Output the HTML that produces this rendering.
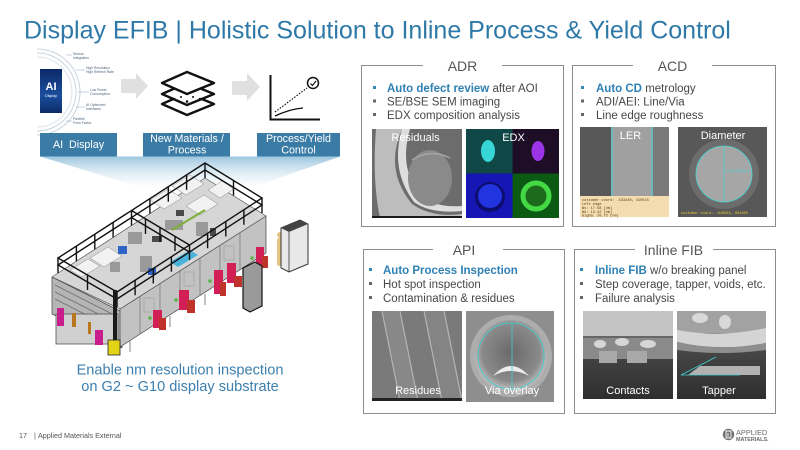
<!DOCTYPE html>
<html><head><meta charset="utf-8"><style>
html,body{margin:0;padding:0;background:#fff;}
body{width:800px;height:450px;overflow:hidden;}
svg{display:block;font-family:"Liberation Sans",Arial,sans-serif;}
</style></head><body>
<svg width="800" height="450" viewBox="0 0 800 450" xmlns="http://www.w3.org/2000/svg">
<defs>
<linearGradient id="spot" x1="0" y1="0" x2="0" y2="1">
<stop offset="0" stop-color="#9cc6df"/><stop offset="1" stop-color="#ffffff" stop-opacity="0"/>
</linearGradient>
<linearGradient id="aipanel" x1="0" y1="0" x2="0" y2="1">
<stop offset="0" stop-color="#0b2868"/><stop offset="0.6" stop-color="#1b4f9e"/><stop offset="1" stop-color="#0c2a66"/>
</linearGradient>
<linearGradient id="darkb" x1="0" y1="0" x2="0" y2="1">
<stop offset="0" stop-color="#5a5a5a"/><stop offset="1" stop-color="#2e2e2e"/>
</linearGradient>
<radialGradient id="via" cx="0.5" cy="0.45" r="0.5">
<stop offset="0" stop-color="#6a6a6a"/><stop offset="0.8" stop-color="#8a8a8a"/><stop offset="1" stop-color="#b5b5b5"/>
</radialGradient>
</defs>

<!-- Title -->
<text x="24" y="38.5" font-size="25" fill="#2e79a8">Display EFIB | Holistic Solution to Inline Process &amp; Yield Control</text>

<!-- AI display graphic -->
<g fill="none" stroke="#c9d3de" stroke-width="1">
<path d="M37,53 A39,39 0 0 1 37,131"/>
<path d="M37,49 A43,43 0 0 1 37,135"/>
<path d="M37,57 A35,35 0 0 1 37,127" stroke="#dde3ea"/>
</g>
<rect x="40" y="69" width="22" height="44" fill="url(#aipanel)"/>
<text x="51" y="90" font-size="11" font-weight="bold" fill="#fff" text-anchor="middle">AI</text>
<text x="51" y="97" font-size="3.6" fill="#fff" text-anchor="middle">Display</text>
<g stroke="#8fa6bf" stroke-width="0.5">
<line x1="66" y1="55" x2="72" y2="55"/><line x1="76" y1="70" x2="85" y2="70"/>
<line x1="78" y1="92" x2="89" y2="92"/><line x1="76" y1="107" x2="85" y2="107"/><line x1="66" y1="121" x2="72" y2="121"/>
</g>
<g font-size="3.4" fill="#4f6680">
<text x="73" y="55">Sensor</text><text x="73" y="59">Integration</text>
<text x="86" y="69">High Resolution</text><text x="86" y="73">High Refresh Rate</text>
<text x="90" y="91">Low Power</text><text x="90" y="95">Consumption</text>
<text x="86" y="106">AI Optimized</text><text x="86" y="110">Interfaces</text>
<text x="73" y="120">Flexible</text><text x="73" y="124">Form Factor</text>
</g>

<!-- arrows -->
<polygon points="121,79 136,79 136,73 148,86 136,99 136,93 121,93" fill="#e0e0e0"/>
<polygon points="232,81 247,81 247,73 260,87 247,101 247,95 232,95" fill="#e0e0e0"/>

<!-- layers icon -->
<g fill="#fff" stroke="#111" stroke-width="2.4" stroke-linejoin="round">
<polygon points="162,104 187,115 214,104 187,93"/>
<polygon points="162,94 187,105 214,94 187,83"/>
<polygon points="162,83 187,94 214,83 187,72"/>
</g>
<g fill="#111"><circle cx="174" cy="99" r="1.3"/><circle cx="187" cy="101.5" r="1.3"/><circle cx="200" cy="99" r="1.3"/><circle cx="181" cy="97" r="1"/><circle cx="193" cy="97" r="1"/></g>

<!-- chart icon -->
<g stroke="#111" fill="none">
<path d="M270.5,75 V119.5 H320" stroke-width="2"/>
<path d="M275,112 L307,88" stroke-width="1.2" stroke-dasharray="1.5,1.5"/>
<path d="M275,116 Q290,109 303,108" stroke-width="1.3"/>
<circle cx="313" cy="83" r="5.5" stroke-width="1.5"/>
<path d="M310.5,83.5 L312.5,85.5 L316,81" stroke-width="1.2"/>
</g>

<!-- blue labels -->
<g fill="#3b7ca6">
<rect x="40" y="133" width="77" height="23.5"/>
<rect x="143" y="133" width="87" height="23.5"/>
<rect x="257" y="133" width="83" height="23.5"/>
</g>
<g fill="#fff" font-size="10.7" text-anchor="middle">
<text x="78.5" y="148">AI&#160; Display</text>
<text x="187" y="142">New Materials /</text>
<text x="187" y="153.5">Process</text>
<text x="298.5" y="142">Process/Yield</text>
<text x="298.5" y="153.5">Control</text>
</g>

<!-- spotlight -->
<polygon points="40,156.5 340,156.5 245,190 163,194" fill="url(#spot)"/>

<!-- machine -->
<g>
<!-- left end block -->
<polygon points="52,277 122,312 122,348 52,314" fill="#b5b5b5" stroke="#444" stroke-width="0.7"/>
<g stroke="#6e6e6e" stroke-width="0.8"><line x1="55" y1="285" x2="118" y2="317"/><line x1="55" y1="292" x2="118" y2="324"/><line x1="55" y1="299" x2="118" y2="331"/></g>
<!-- front face -->
<polygon points="120,309 266,216 266,253 120,347" fill="#c2c2c2" stroke="#444" stroke-width="0.7"/>
<g stroke="#7e7e7e" stroke-width="0.8">
<line x1="140" y1="296" x2="140" y2="334"/><line x1="160" y1="283" x2="160" y2="321"/><line x1="180" y1="271" x2="180" y2="309"/><line x1="200" y1="258" x2="200" y2="296"/><line x1="220" y1="245" x2="220" y2="283"/><line x1="240" y1="232" x2="240" y2="270"/>
</g>
<g fill="none" stroke="#9a9a9a" stroke-width="0.6">
<rect x="144" y="298" width="10" height="14"/><rect x="184" y="272" width="10" height="14"/><rect x="224" y="246" width="10" height="14"/>
</g>
<!-- top surface -->
<polygon points="52,277 205,178 266,216 120,309" fill="#d6d6d6" stroke="#555" stroke-width="0.7"/>
<g fill="#f2f2f2" stroke="#8a8a8a" stroke-width="0.5">
<polygon points="150,200 168,189 182,198 164,209"/><polygon points="172,186 190,175 204,184 186,195"/>
<polygon points="186,206 204,195 218,204 200,215"/><polygon points="90,258 108,247 122,256 104,267"/>
<polygon points="70,270 88,259 100,266 82,277"/><polygon points="208,190 222,181 234,189 220,198"/>
</g>
<g fill="#9a9a9a"><rect x="128" y="232" width="14" height="12"/><rect x="165" y="220" width="18" height="10"/><rect x="196" y="222" width="12" height="14"/><rect x="140" y="256" width="12" height="16"/><rect x="110" y="262" width="10" height="10"/></g>
<g fill="#4a4a4a"><rect x="152" y="236" width="10" height="6"/><rect x="176" y="210" width="8" height="6"/><rect x="210" y="228" width="6" height="8"/></g>
<rect x="118" y="246" width="9" height="8" fill="#2f63c8"/>
<rect x="148" y="268" width="8" height="7" fill="#2f63c8"/>
<polygon points="170,262 190,250 198,255 178,267" fill="#4ab3dc"/>
<path d="M172,230 L205,210" stroke="#7fae3a" stroke-width="2"/>
<!-- railings -->
<g fill="none" stroke="#111" stroke-width="1.4">
<polygon points="58,258 205,163 262,198 117,292"/>
<polygon points="58,265 205,170 262,205 117,299"/>
<path d="M131.5,210.5 L189.5,245 M131.5,217.5 L189.5,252"/>
<path d="M58,258v15M76.4,246.1v15M94.8,234.3v15M113.1,222.4v15M131.5,210.5v15M149.9,198.6v15M168.3,186.8v15M186.6,174.9v15M205,163v15
M117,292v15M135.1,280.3v15M153.3,268.5v15M171.4,256.8v15M189.5,245v15M207.6,233.3v15M225.8,221.5v15M243.9,209.8v15M262,198v15
M233.5,180.5v15M87.5,275v15M160,227v15M145.5,219v15M175,236v15"/>
</g>
<!-- lower frames/legs -->
<g stroke="#555" stroke-width="0.8" fill="#cfcfcf">
<rect x="56" y="314" width="62" height="30"/>
</g>
<g stroke="#666" stroke-width="0.8">
<line x1="130" y1="341" x2="130" y2="352"/><line x1="170" y1="316" x2="170" y2="327"/><line x1="205" y1="294" x2="205" y2="305"/><line x1="245" y1="268" x2="245" y2="279"/>
</g>
<g fill="#c81e8c"><rect x="57" y="308" width="7" height="18"/><rect x="95" y="330" width="8" height="15"/></g>
<g fill="#b8761e"><rect x="72" y="313" width="4" height="14"/><rect x="88" y="322" width="3" height="12"/></g>
<rect x="113" y="290" width="4" height="55" fill="#1a1a1a"/>
<rect x="108" y="340" width="12" height="15" fill="#e3d418" stroke="#222" stroke-width="0.8"/>
<!-- red units -->
<g fill="#d21f55"><rect x="153" y="310" width="9" height="18"/><rect x="179" y="290" width="10" height="20"/><rect x="214" y="270" width="9" height="24"/><rect x="227" y="263" width="9" height="20"/><rect x="256" y="247" width="8" height="18"/></g>
<g fill="#c0332b"><rect x="159" y="318" width="7" height="12"/><rect x="187" y="300" width="8" height="13"/><rect x="220" y="282" width="6" height="14"/><rect x="234" y="276" width="8" height="11"/><rect x="262" y="256" width="6" height="12"/></g>
<g fill="#5cb34a"><circle cx="150" cy="318" r="1.8"/><circle cx="176" cy="300" r="1.8"/><circle cx="210" cy="281" r="1.8"/><circle cx="252" cy="258" r="1.8"/></g>
<!-- black cabinet -->
<polygon points="243,268 255,262 262,266 262,306 250,312 243,308" fill="#9a9a9a" stroke="#111" stroke-width="1.2"/>
<!-- human -->
<rect x="277" y="238" width="6" height="28" rx="2" fill="#e4c585"/><circle cx="280" cy="235" r="3" fill="#e4c585"/>
<!-- right cabinet -->
<polygon points="281,228 300,220 308,224 308,264 289,272 281,268" fill="#e8e8e8" stroke="#333" stroke-width="1"/>
<polygon points="281,228 300,220 308,224 289,232" fill="#444"/>
<line x1="289" y1="232" x2="289" y2="272" stroke="#333" stroke-width="0.8"/>
</g>

<!-- bottom-left caption -->
<g font-size="14.6" fill="#3b7fae" text-anchor="middle">
<text x="180" y="374.5">Enable nm resolution inspection</text>
<text x="180" y="391">on G2 ~ G10 display substrate</text>
</g>

<!-- panel boxes -->
<g fill="none" stroke="#8c8c8c" stroke-width="1">
<path d="M423,65.5 H361.5 V226.5 H563.5 V65.5 H502"/>
<path d="M633,65.5 H572.5 V226.5 H775.5 V65.5 H712"/>
<path d="M433,249.5 H363.5 V413.5 H564.5 V249.5 H503"/>
<path d="M635,249.5 H574.5 V413.5 H775.5 V249.5 H713"/>
</g>
<g font-size="14" fill="#555" text-anchor="middle">
<text x="462.5" y="71">ADR</text>
<text x="672.5" y="71">ACD</text>
<text x="464" y="255">API</text>
<text x="673.5" y="255">Inline FIB</text>
</g>

<!-- bullets -->
<g font-size="11.5" fill="#474747">
<rect x="373" y="86" width="3" height="3" fill="#3b86b8"/>
<rect x="373" y="99.5" width="3" height="3" fill="#666"/>
<rect x="373" y="113" width="3" height="3" fill="#666"/>
<text x="387" y="92"><tspan font-weight="bold" fill="#2f80b5">Auto defect review</tspan> after AOI</text>
<text x="387" y="105.5">SE/BSE SEM imaging</text>
<text x="387" y="119">EDX composition analysis</text>

<rect x="581" y="86" width="3" height="3" fill="#3b86b8"/>
<rect x="581" y="99.5" width="3" height="3" fill="#666"/>
<rect x="581" y="113" width="3" height="3" fill="#666"/>
<text x="596" y="92"><tspan font-weight="bold" fill="#2f80b5">Auto CD</tspan> metrology</text>
<text x="596" y="105.5">ADI/AEI: Line/Via</text>
<text x="596" y="119">Line edge roughness</text>

<rect x="369" y="268" width="3" height="3" fill="#3b86b8"/>
<rect x="369" y="282" width="3" height="3" fill="#666"/>
<rect x="369" y="296" width="3" height="3" fill="#666"/>
<text x="383" y="274" font-weight="bold" fill="#2f80b5">Auto Process Inspection</text>
<text x="383" y="288">Hot spot inspection</text>
<text x="383" y="302">Contamination &amp; residues</text>

<rect x="580" y="268" width="3" height="3" fill="#3b86b8"/>
<rect x="580" y="282" width="3" height="3" fill="#666"/>
<rect x="580" y="296" width="3" height="3" fill="#666"/>
<text x="595" y="274"><tspan font-weight="bold" fill="#2f80b5">Inline FIB</tspan> w/o breaking panel</text>
<text x="595" y="288">Step coverage, tapper, voids, etc.</text>
<text x="595" y="302">Failure analysis</text>
</g>

<!-- Residuals image -->
<g>
<rect x="372" y="129" width="90" height="89" fill="#6c6c6c"/>
<path d="M376,129 H402 Q384,170 412,204 Q432,218 462,214 V218 H380 Q372,180 376,129 Z" fill="#bdbdbd"/>
<path d="M402,129 Q390,170 414,202 Q430,214 462,211 V206 Q436,208 422,196 Q398,170 410,129 Z" fill="#dedede"/>
<ellipse cx="430" cy="178" rx="22" ry="28" fill="#8a8a8a"/>
<path d="M412,160 Q430,148 450,158" stroke="#a5a5a5" stroke-width="1.5" fill="none"/>
<rect x="372" y="216" width="90" height="2" fill="#1a1a1a"/>
</g>
<!-- EDX image -->
<g>
<rect x="466" y="129" width="46.5" height="44.5" fill="#104848"/>
<rect x="512.5" y="129" width="46.5" height="44.5" fill="#1d0e26"/>
<rect x="466" y="173.5" width="46.5" height="44.5" fill="#1616b4"/>
<rect x="512.5" y="173.5" width="46.5" height="44.5" fill="#0c5a14"/>
<ellipse cx="488" cy="151" rx="7" ry="11" fill="#36d6d6"/>
<ellipse cx="538" cy="151" rx="6.5" ry="10" fill="#9b34e6"/>
<circle cx="490" cy="197" r="15" fill="#0d0d70"/><circle cx="490" cy="196" r="12" fill="#2233e0"/>
<circle cx="536" cy="196" r="13" fill="#1d6a1d" stroke="#44d844" stroke-width="5"/>
</g>
<!-- LER image -->
<g>
<rect x="580" y="127" width="89" height="90" fill="#7a7a7a"/>
<rect x="580" y="127" width="31" height="69" fill="#585858"/>
<rect x="611" y="127" width="42" height="69" fill="#a0a0a0"/>
<line x1="612" y1="127" x2="612" y2="196" stroke="#3ed2d2" stroke-width="1"/>
<line x1="652" y1="127" x2="652" y2="196" stroke="#3ed2d2" stroke-width="1"/>
<rect x="580" y="196" width="89" height="21" fill="#f3dcb0"/>
<g font-family="'Liberation Mono',monospace" font-size="3.6" fill="#5a3a10">
<text x="582" y="201">customer coord: -533240, 410515</text><text x="582" y="205">Left edge</text><text x="582" y="209">Wx: 17.58 [nm]</text><text x="582" y="213">Wd: 13.42 [nm]</text><text x="582" y="216.5">Sigma: 20.72 [nm]</text>
</g>
</g>
<!-- Diameter image -->
<g>
<rect x="678" y="127" width="89" height="90" fill="#585858"/>
<circle cx="724" cy="174" r="35" fill="#6c6c6c"/>
<circle cx="724" cy="174" r="28" fill="#a6a6a6" stroke="#48d4d4" stroke-width="0.8"/>
<line x1="724" y1="146" x2="724" y2="202" stroke="#48d4d4" stroke-width="0.8"/>
<text x="726" y="172" font-size="3.5" fill="#48d4d4">41.53.760 [nm]</text>
<text x="681" y="214" font-family="'Liberation Mono',monospace" font-size="3.6" fill="#e8d030">customer coord: -810635, 801265</text>
</g>
<!-- Residues image -->
<g>
<rect x="372" y="311" width="90" height="90" fill="#7a7a7a"/>
<polygon points="382,311 400,311 418,401 400,401" fill="#888"/>
<polygon points="424,311 444,311 462,401 442,401" fill="#848484"/>
<g stroke="#b4b4b4" stroke-width="1.2"><line x1="382" y1="311" x2="400" y2="401"/><line x1="400" y1="311" x2="418" y2="401"/><line x1="424" y1="311" x2="442" y2="401"/><line x1="444" y1="311" x2="462" y2="401"/></g>
<rect x="372" y="398" width="90" height="3" fill="#222"/>
</g>
<!-- Via overlay image -->
<g>
<rect x="466" y="311" width="88" height="91" fill="#8e8e8e"/>
<circle cx="511" cy="356" r="41" fill="#adadad"/>
<circle cx="511" cy="356" r="36" fill="url(#via)"/>
<path d="M493,376 Q511,356 529,376 Q511,366 493,376 Z" fill="#ececec"/>
<circle cx="511" cy="356" r="33" fill="none" stroke="#3ed0d0" stroke-width="0.8"/>
<line x1="512" y1="323" x2="512" y2="389" stroke="#3ed0d0" stroke-width="0.8"/>
</g>
<!-- Contacts image -->
<g>
<rect x="583" y="311" width="90" height="88" fill="url(#darkb)"/>
<rect x="583" y="311" width="90" height="26" fill="#c3c3c3"/>
<rect x="583" y="337" width="90" height="22" fill="#8a8a8a"/>
<rect x="583" y="336" width="90" height="2" fill="#666"/>
<g fill="#d6d6d6"><ellipse cx="600" cy="344" rx="6" ry="4"/><ellipse cx="622" cy="342" rx="7" ry="4"/><ellipse cx="648" cy="344" rx="8" ry="4"/></g>
<g fill="#a8a8a8"><rect x="599" y="351" width="18" height="12"/><rect x="627" y="351" width="20" height="12"/></g>
</g>
<!-- Tapper image -->
<g>
<rect x="677" y="311" width="89" height="88" fill="url(#darkb)"/>
<rect x="677" y="311" width="89" height="22" fill="#a2a2a2"/>
<path d="M677,330 Q720,338 766,328 V343 Q720,352 677,342 Z" fill="#d4d4d4"/>
<path d="M677,342 Q720,352 766,343 V350 Q722,356 677,350 Z" fill="#8e8e8e"/>
<polygon points="688,375 700,366 760,366 760,375" fill="#b2b2b2"/>
<line x1="681" y1="375" x2="716" y2="357" stroke="#3ed0d0" stroke-width="0.8"/>
<line x1="681" y1="375" x2="740" y2="375" stroke="#3ed0d0" stroke-width="0.8"/>
<g fill="#d8d8d8"><ellipse cx="700" cy="318" rx="8" ry="5"/><ellipse cx="725" cy="322" rx="6" ry="7"/></g>
</g>

<!-- image labels -->
<g font-size="11" fill="#fff" text-anchor="middle">
<text x="415.5" y="141">Residuals</text>
<text x="513.5" y="141">EDX</text>
<text x="630.5" y="139">LER</text>
<text x="723" y="139">Diameter</text>
<text x="418" y="394">Residues</text>
<text x="512" y="394">Via overlay</text>
<text x="628" y="394">Contacts</text>
<text x="719" y="394">Tapper</text>
</g>

<!-- footer -->
<g font-size="7.2" fill="#555">
<text x="19" y="438">17</text>
<text x="34" y="438">|</text>
<text x="38" y="438">Applied Materials External</text>
</g>
<!-- logo -->
<circle cx="728.5" cy="434.5" r="5.7" fill="#707070"/>
<path d="M726,431 h5 v7 h-5 z M728,433 v4" stroke="#fff" stroke-width="0.9" fill="none"/>
<text x="736" y="435" font-size="7.4" fill="#6a6a6a">APPLIED</text>
<text x="736" y="441" font-size="5.4" font-weight="bold" fill="#6a6a6a">MATERIALS.</text>
</svg>
</body></html>
